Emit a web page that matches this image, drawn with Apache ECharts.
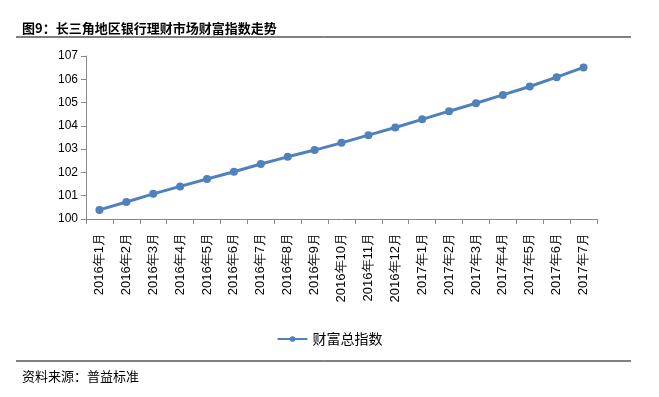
<!DOCTYPE html>
<html>
<head>
<meta charset="utf-8">
<script src="https://cdn.jsdelivr.net/npm/echarts@6/dist/echarts.min.js"></script>
<style>
html,body{margin:0;padding:0;background:#fff;}
#main{width:659px;height:397px;}
</style>
</head>
<body>
<div id="main"></div>
<script>
// 横轴月份
var months = ['2016年1月','2016年2月','2016年3月','2016年4月','2016年5月','2016年6月','2016年7月',
	'2016年8月','2016年9月','2016年10月','2016年11月','2016年12月','2017年1月','2017年2月',
	'2017年3月','2017年4月','2017年5月','2017年6月','2017年7月'];
// 财富总指数
var wealthIndex = [100.39, 100.73, 101.08, 101.40, 101.72, 102.03, 102.36, 102.67, 102.96, 103.27,
	103.60, 103.93, 104.28, 104.63, 104.97, 105.33, 105.69, 106.09, 106.51];

var chart = echarts.init(document.getElementById('main'));
var option = {
	animation: false,
	title: [
		{
			text: '图9：长三角地区银行理财市场财富指数走势',
			left: 17,
			top: 17,
			textStyle: {fontSize: 13, fontWeight: 'bold', color: '#000', fontFamily: 'Noto Sans CJK SC'}
		},
		{
			text: '资料来源：普益标准',
			left: 17,
			top: 365,
			textStyle: {fontSize: 13, fontWeight: 'normal', color: '#000', fontFamily: 'Noto Sans CJK SC'}
		}
	],
	graphic: [
		{type: 'line', shape: {x1: 16, y1: 37, x2: 631, y2: 37}, style: {stroke: '#000', lineWidth: 1}},
		{type: 'line', shape: {x1: 16, y1: 361, x2: 631, y2: 361}, style: {stroke: '#000', lineWidth: 1}}
	],
	legend: {
		data: ['财富总指数'],
		left: 'center',
		top: 327,
		itemWidth: 30,
		itemHeight: 7,
		itemStyle: {color: '#4F81BD'},
		lineStyle: {width: 2},
		textStyle: {fontSize: 14, color: '#000', fontFamily: 'Noto Sans CJK SC'}
	},
	grid: {left: 86, right: 62, top: 56, bottom: 178, containLabel: false},
	xAxis: {
		type: 'category',
		data: months,
		boundaryGap: true,
		axisLine: {lineStyle: {color: '#888', width: 1}},
		axisTick: {show: true, alignWithLabel: false, length: 5, lineStyle: {color: '#888'}},
		axisLabel: {
			interval: 0,
			rotate: 90,
			fontSize: 13,
			color: '#000',
			margin: 14,
			fontFamily: 'Liberation Sans'
		}
	},
	yAxis: {
		type: 'value',
		min: 100,
		max: 107,
		interval: 1,
		axisLine: {show: true, lineStyle: {color: '#888', width: 1}},
		axisTick: {show: true, length: 5, lineStyle: {color: '#888'}},
		splitLine: {show: false},
		axisLabel: {fontSize: 12, color: '#000', margin: 8, fontFamily: 'Liberation Sans'}
	},
	series: [
		{
			name: '财富总指数',
			type: 'line',
			data: wealthIndex,
			symbol: 'circle',
			symbolSize: 8,
			lineStyle: {color: '#4F81BD', width: 3},
			itemStyle: {color: '#4F81BD'}
		}
	]
};
chart.setOption(option);
</script>
</body>
</html>
